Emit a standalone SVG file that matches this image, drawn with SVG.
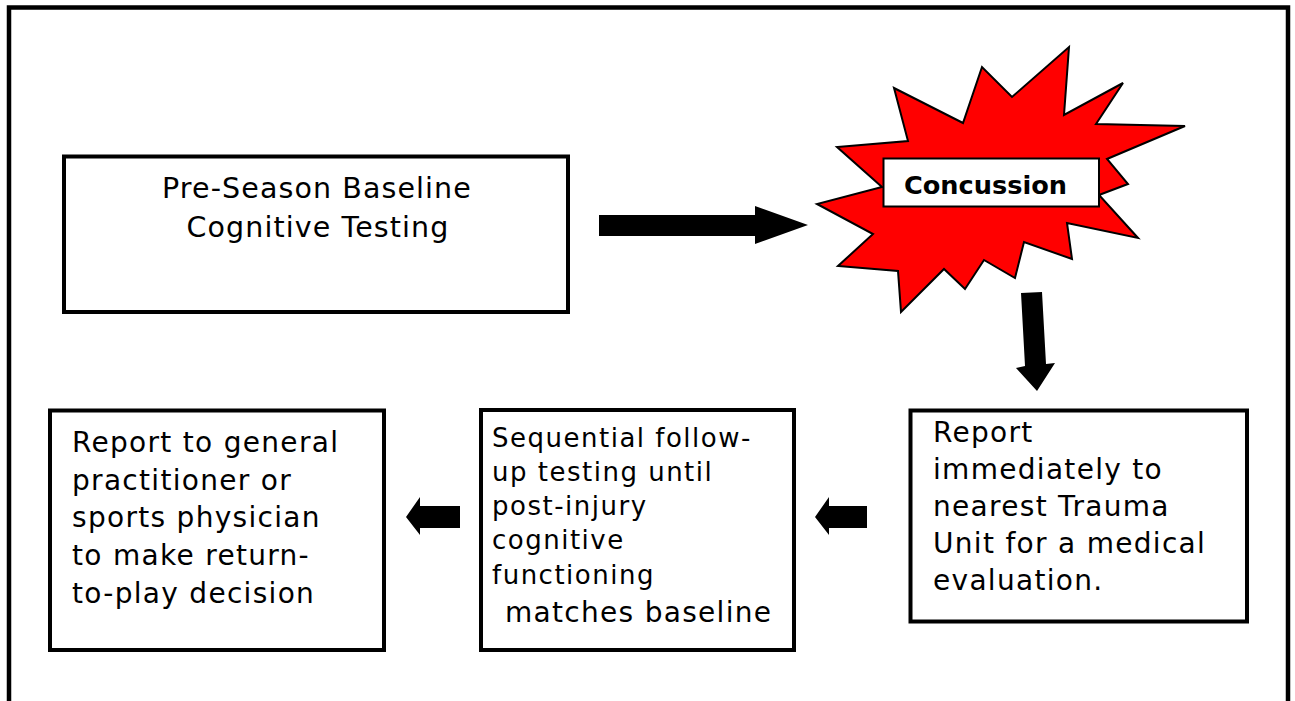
<svg xmlns="http://www.w3.org/2000/svg" width="1295" height="701" viewBox="0 0 1295 701">
<style>
.box{fill:#fff;stroke:#000;stroke-width:4}
.t{font-family:"DejaVu Sans",Verdana,sans-serif;fill:#000;letter-spacing:1.3px}
.arrow{fill:#000;stroke:none}
</style>
<rect width="1295" height="701" fill="#fff"/>
<path d="M9,705 V7.5 H1288 V705" fill="none" stroke="#000" stroke-width="4.5"/>
<g id="node-preseason">
<rect class="box" x="64" y="156.5" width="504" height="155.5"/>
<text class="t" font-size="28.5" text-anchor="middle" style="letter-spacing:1.1px"><tspan x="317" y="198">Pre-Season Baseline</tspan><tspan x="318" y="237">Cognitive Testing</tspan></text>
</g>
<g id="node-concussion">
<polygon points="894,88 963,123 982,67 1012,97 1069,47 1064,115 1123,83 1096,124 1185,126 1107,159 1128,184 1099,195 1138,238 1067,223 1072,259 1024,242 1015,278 984,260 965,289 944,269 901,312 898,271 838,266 873,234 817,204 882,187 837,147 908,141" fill="#ff0000" stroke="#000" stroke-width="2" stroke-linejoin="miter"/>
<rect x="883.5" y="158.5" width="215.5" height="48" fill="#fff" stroke="#000" stroke-width="2"/>
<text x="904" y="194" font-family="DejaVu Sans,Verdana,sans-serif" font-weight="bold" font-size="24" textLength="163" lengthAdjust="spacingAndGlyphs">Concussion</text>
</g>
<g id="node-trauma">
<rect class="box" x="910.5" y="410.5" width="336.5" height="211"/>
<text class="t" font-size="28"><tspan x="933" y="442">Report</tspan><tspan x="933" y="479">immediately to</tspan><tspan x="933" y="516">nearest Trauma</tspan><tspan x="933" y="553">Unit for a medical</tspan><tspan x="933" y="590">evaluation.</tspan></text>
</g>
<g id="node-followup">
<rect class="box" x="481" y="410" width="313" height="240"/>
<text class="t" font-size="26" style="letter-spacing:1.5px"><tspan x="492" y="447">Sequential follow-</tspan><tspan x="492" y="481">up testing until</tspan><tspan x="492" y="515">post-injury</tspan><tspan x="492" y="549">cognitive</tspan><tspan x="492" y="584">functioning</tspan></text>
<text class="t" font-size="28" x="505" y="622">matches baseline</text>
</g>
<g id="node-report-gp">
<rect class="box" x="50" y="410.5" width="334" height="239.5"/>
<text class="t" font-size="28"><tspan x="72" y="452">Report to general</tspan><tspan x="72" y="490">practitioner or</tspan><tspan x="72" y="527">sports physician</tspan><tspan x="72" y="565">to make return-</tspan><tspan x="72" y="603">to-play decision</tspan></text>
</g>
<g id="connectors">
<polygon class="arrow" points="599,215 755,215 755,206 808,225 755,244 755,236 599,236"/>
<polygon class="arrow" points="1021,293 1042,292 1046,364 1055,363 1037,391 1016,368 1025,366"/>
<polygon class="arrow" points="867,506 829,506 829,497 815,517 829,535 829,528 867,528"/>
<polygon class="arrow" points="460,506 420,506 420,497 406,517 420,535 420,528 460,528"/>
</g>
</svg>
